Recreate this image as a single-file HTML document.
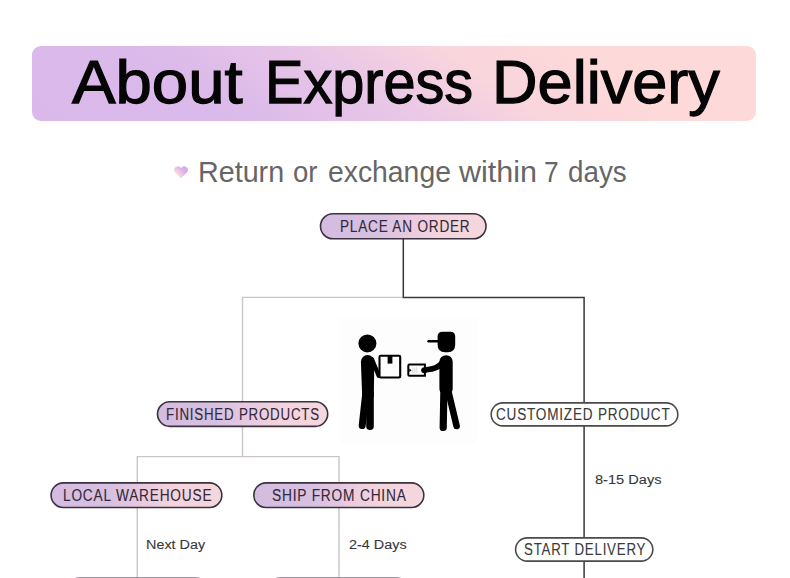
<!DOCTYPE html>
<html><head><meta charset="utf-8">
<style>
*{margin:0;padding:0;box-sizing:border-box}
html,body{width:790px;height:578px;overflow:hidden;background:#fff}
body{position:relative;font-family:"Liberation Sans",sans-serif}
.abs{position:absolute}
.t{position:absolute;white-space:nowrap;line-height:1;transform-origin:0 0}
.banner{left:32.2px;top:45.6px;width:724px;height:75px;border-radius:9px;
 background:linear-gradient(35deg,#dab8ea 0%,#dbb9ea 25%,#e8c6e7 45%,#f9d5dd 62%,#fdd9d9 78%,#fdd9d9 100%)}
.pt{color:#33283a;font-size:15.6px;letter-spacing:0.9px;-webkit-text-stroke:0.1px currentColor}
.tt{font-size:61.5px;color:#050505;-webkit-text-stroke:1.25px #050505}
.st{font-size:28.6px;color:#666}
.lb{color:#383838;font-size:13.7px;-webkit-text-stroke:0.1px #383838}
</style></head><body>
<div class="abs banner"></div>
<div class="t tt" id="w1" style="left:71.80px;top:51px;transform:scaleX(1.0614)">About</div>
<div class="t tt" id="w2" style="left:265.13px;top:51px;transform:scaleX(0.9371)">Express</div>
<div class="t tt" id="w3" style="left:491.89px;top:51px;transform:scaleX(1.0256)">Delivery</div>

<svg class="abs" style="left:173.2px;top:165.6px" width="16" height="14" viewBox="0 0 16 14">
<defs><linearGradient id="hg" x1="0.15" y1="0.85" x2="0.9" y2="0.2"><stop offset="0" stop-color="#fed8e0"/><stop offset="0.25" stop-color="#f8d2e2"/><stop offset="0.7" stop-color="#d9b3e9"/><stop offset="1" stop-color="#d2ade9"/></linearGradient></defs>
<path d="M8 12.3 L1.9 6.3 A3.5 3.5 0 0 1 8 2.0 A3.5 3.5 0 0 1 14.2 6.3 Z" fill="url(#hg)"/>
</svg>
<div class="t st" id="s1" style="left:198.40px;top:158.1px;transform:scaleX(1.0036)">Return</div>
<div class="t st" id="s2" style="left:292.64px;top:158.1px;transform:scaleX(0.9630)">or</div>
<div class="t st" id="s3" style="left:327.82px;top:158.1px;transform:scaleX(0.9911)">exchange</div>
<div class="t st" id="s4" style="left:458.78px;top:158.1px;transform:scaleX(1.0677)">within</div>
<div class="t st" id="s5" style="left:544.09px;top:158.1px;transform:scaleX(0.9159)">7</div>
<div class="t st" id="s6" style="left:568.24px;top:158.1px;transform:scaleX(0.9712)">days</div>

<!-- lines -->
<svg class="abs" style="left:0;top:0" width="790" height="578" viewBox="0 0 790 578">
<g fill="none" stroke="#cac4c7" stroke-width="1.4">
 <path d="M403.3 297.4 H242.5 V456.6"/>
 <path d="M137.3 580 V456.6 H339 V580"/>
</g>
<g fill="none" stroke="#383838" stroke-width="1.5">
 <path d="M403.3 238 V297.4 H584.1 V580"/>
</g>
</svg>

<!-- illustration -->
<div class="abs" style="left:340px;top:318px;width:137px;height:125px;background:#fdfdfd"></div>
<svg class="abs" style="left:340px;top:318px" width="137" height="125" viewBox="340 318 137 125">
<g fill="#000">
 <circle cx="367.4" cy="343.4" r="9"/>
 <path d="M360.9 361.8 A6.7 6.7 0 0 1 374.3 361.8 L373.8 397 L362.2 397 Z"/>
</g>
<g stroke="#000" stroke-linecap="round" fill="none">
 <path d="M370 393 L370 426.3" stroke-width="7.6"/>
 <path d="M365.8 393 L362.2 425.6" stroke-width="7"/>
 <path d="M372 359.5 L378.8 375.8" stroke-width="4.4"/>
</g>
<rect x="379.5" y="355.8" width="20.7" height="21.7" rx="1.2" fill="#fff" stroke="#000" stroke-width="2.1"/>
<rect x="387.6" y="355.5" width="4.8" height="8.1" fill="#000"/>
<g fill="#000">
 <path d="M437.6 336.5 Q437.6 331.7 442.5 331.7 L450.3 331.7 Q455.2 331.7 455.2 336.5 L455.2 344.5 Q455.2 352.2 447.8 352.2 L445 352.2 Q437.6 352.2 437.6 344.5 Z"/>
 <path d="M452.7 361.8 A6.65 6.65 0 0 0 439.4 361.8 L439.4 388 Q439.4 392.5 442 392.5 L450.2 392.5 Q452.7 392.5 452.7 388 Z"/>
</g>
<g stroke="#000" stroke-linecap="round" fill="none">
 <path d="M428.6 341.3 L439 341.3" stroke-width="2.6"/>
 <path d="M443.9 390 L443.2 427.5" stroke-width="7.2"/>
 <path d="M448.5 392 L456.6 426" stroke-width="6.6"/>
</g>
<path d="M409.5 364.6 L424.9 364.6 L424.9 375.8 L409.5 375.8 Q408.3 375.8 408.3 374.6 L408.3 365.8 Q408.3 364.6 409.5 364.6 Z" fill="#fff" stroke="#000" stroke-width="2"/>
<path d="M409.3 368.4 L411.6 370.2 L409.3 372 Z" fill="#000"/>
<path d="M412.8 367.2 L412.8 373.2 M414.8 367.2 L414.8 373.2 M416.8 367.2 L416.8 373.2" stroke="#b0b0b0" stroke-width="0.5"/>
<path d="M442 363 Q437.5 369 426.5 369.8" stroke="#000" stroke-width="5.6" stroke-linecap="round" fill="none"/>
<ellipse cx="424.4" cy="370.3" rx="3.2" ry="3" fill="#000"/>
</svg>

<!-- pills -->
<svg class="abs" style="left:0;top:0" width="790" height="578" viewBox="0 0 790 578">
<defs><linearGradient id="pg" x1="0" y1="0" x2="1" y2="0"><stop offset="0" stop-color="#d3bcdf"/><stop offset="0.35" stop-color="#d8c0e0"/><stop offset="0.55" stop-color="#e9cadf"/><stop offset="0.72" stop-color="#f3d4dc"/><stop offset="1" stop-color="#f5d7dd"/></linearGradient></defs>
<rect x="320.50" y="213.70" width="165.50" height="25.10" rx="12.55" fill="url(#pg)" stroke="#3b3140" stroke-width="1.6"/>
<rect x="157.50" y="401.80" width="170.20" height="24.60" rx="12.30" fill="url(#pg)" stroke="#3b3140" stroke-width="1.6"/>
<rect x="491.20" y="402.90" width="186.60" height="23.00" rx="11.50" fill="#fff" stroke="#4a4a4a" stroke-width="1.6"/>
<rect x="51.10" y="482.90" width="170.70" height="24.60" rx="12.30" fill="url(#pg)" stroke="#3b3140" stroke-width="1.6"/>
<rect x="253.80" y="482.90" width="170.00" height="24.60" rx="12.30" fill="url(#pg)" stroke="#3b3140" stroke-width="1.6"/>
<rect x="515.60" y="537.90" width="137.20" height="23.20" rx="11.60" fill="#fff" stroke="#4a4a4a" stroke-width="1.6"/>
<rect x="67.40" y="578.00" width="140.40" height="24.40" rx="12.20" fill="url(#pg)" stroke="#7d7380" stroke-width="1.6"/>
<rect x="268.00" y="578.00" width="140.90" height="24.40" rx="12.20" fill="url(#pg)" stroke="#7d7380" stroke-width="1.6"/>
</svg>
<div class="t pt" id="p1" style="left:340.08px;top:219.0px;transform:scaleX(0.8726)">PLACE AN ORDER</div>

<div class="t pt" id="p2" style="left:166.25px;top:406.8px;transform:scaleX(0.8555)">FINISHED PRODUCTS</div>

<div class="t pt" id="p3" style="left:496.22px;top:407.0px;color:#3a3a3a;transform:scaleX(0.8708)">CUSTOMIZED PRODUCT</div>

<div class="t pt" id="p4" style="left:63.10px;top:487.9px;transform:scaleX(0.8781)">LOCAL WAREHOUSE</div>

<div class="t pt" id="p5" style="left:272.16px;top:487.9px;transform:scaleX(0.8819)">SHIP FROM CHINA</div>

<div class="t pt" id="p6" style="left:523.79px;top:542.0px;color:#3a3a3a;transform:scaleX(0.8532)">START DELIVERY</div>


<div class="t lb" id="l1" style="left:145.64px;top:538.4px;transform:scaleX(1.0510)">Next Day</div>
<div class="t lb" id="l2" style="left:348.5px;top:538.4px;transform:scaleX(1.052)">2-4 Days</div>
<div class="t lb" id="l3" style="left:594.80px;top:473.4px;transform:scaleX(1.0670)">8-15 Days</div>
</body></html>
